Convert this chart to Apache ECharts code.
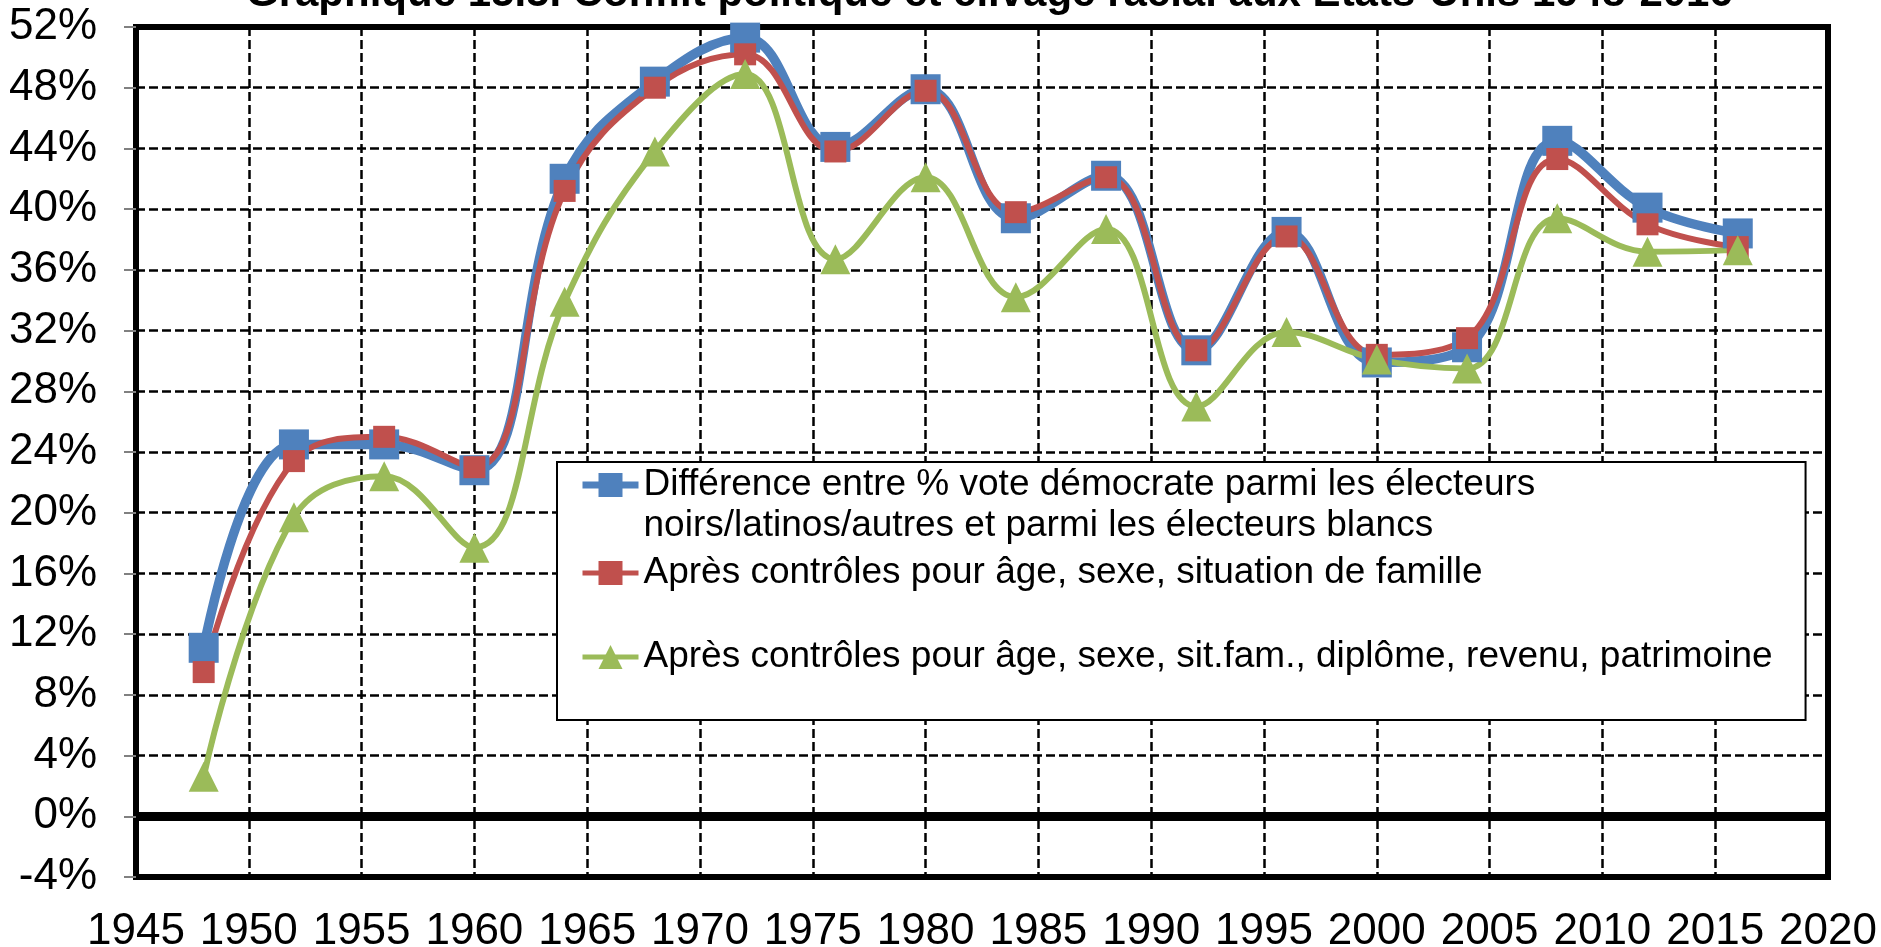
<!DOCTYPE html>
<html>
<head>
    <meta http-equiv="Content-Type" content="text/html; charset=UTF-8">
    <title>Conflit politique et clivage racial</title>
    <script type="text/javascript" src="https://cdn.jsdelivr.net/npm/echarts@6/dist/echarts.min.js"></script>
    <style>
        body { margin: 0; background: #fff; }
    </style>
</head>
<body>
<div id="view" style="width:1881px;height:947px;"></div>
</body>
<script type="text/javascript">

    // annees d'election
    var years = [1948, 1952, 1956, 1960, 1964, 1968, 1972, 1976, 1980, 1984, 1988, 1992, 1996, 2000, 2004, 2008, 2012, 2016];
    // ecart brut (en %)
    var ecartBrut = [11.1, 24.5, 24.5, 22.8, 42.0, 48.4, 51.3, 44.1, 47.9, 39.4, 42.2, 30.7, 38.5, 29.9, 30.9, 44.5, 40.1, 38.4];
    // apres controles age, sexe, situation de famille
    var ecartCtrl1 = [9.5, 23.4, 25.0, 23.0, 41.2, 48.0, 50.2, 43.8, 47.8, 39.8, 42.1, 30.7, 38.2, 30.4, 31.5, 43.3, 39.0, 37.5];
    // apres controles age, sexe, sit.fam., diplome, revenu, patrimoine
    var ecartCtrl2 = [2.6, 19.7, 22.4, 17.7, 33.9, 43.8, 48.9, 36.7, 42.1, 34.2, 38.7, 27.0, 31.9, 30.1, 29.5, 39.4, 37.2, 37.3];

    var nomBrut = 'Différence entre % vote démocrate parmi les électeurs\nnoirs/latinos/autres et parmi les électeurs blancs';
    var nomCtrl1 = 'Après contrôles pour âge, sexe, situation de famille';
    var nomCtrl2 = 'Après contrôles pour âge, sexe, sit.fam., diplôme, revenu, patrimoine';

    var font = '"Liberation Sans", Arial, sans-serif';

    function toPoints(vals) {
        var pts = [];
        for (var i = 0; i < years.length; i++) {
            pts.push([years[i], vals[i]]);
        }
        return pts;
    }

    var myChart = echarts.init(document.getElementById("view"));

    var option = {
        animation: false,
        backgroundColor: '#fff',
        title: {
            text: 'Graphique 15.5. Conflit politique et clivage racial aux Etats-Unis 1948-2016',
            left: 246,
            top: -27,
            padding: 0,
            textStyle: {
                fontFamily: font,
                fontSize: 42,
                fontWeight: 'bold',
                color: '#000'
            }
        },
        grid: {
            left: 136,
            right: 53,
            top: 27,
            bottom: 70,
            show: true,
            borderColor: '#000',
            borderWidth: 6,
            containLabel: false,
            outerBoundsMode: 'none'
        },
        legend: {
            orient: 'vertical',
            left: 557,
            top: 462,
            padding: [-38.5, 33, 5.5, 22],
            itemGap: 6,
            itemWidth: 56,
            itemHeight: 30,
            backgroundColor: '#fff',
            borderColor: '#000',
            borderWidth: 2,
            textStyle: {
                fontFamily: font,
                fontSize: 37,
                lineHeight: 41,
                color: '#000'
            },
            // ligne vide devant le premier libelle pour garder l'icone sur la 1re ligne
            formatter: function (name) {
                return name === nomBrut ? '\n' + name : name;
            },
            data: [
                {name: nomBrut, lineStyle: {width: 7}},
                {name: nomCtrl1, lineStyle: {width: 5}},
                {name: nomCtrl2, lineStyle: {width: 5}, textStyle: {padding: [37, 0, 37, 0]}}
            ]
        },
        xAxis: {
            type: 'value',
            min: 1945,
            max: 2020,
            interval: 5,
            axisLine: {show: false},
            axisTick: {show: false},
            axisLabel: {
                margin: 33,
                fontFamily: font,
                fontSize: 44,
                color: '#000',
                formatter: function (v) { return String(v); }
            },
            splitLine: {
                show: true,
                lineStyle: {color: '#000', width: 2.5, type: [9, 4]}
            }
        },
        yAxis: {
            type: 'value',
            min: -4,
            max: 52,
            interval: 4,
            axisLine: {show: false},
            axisTick: {
                show: true,
                length: 12,
                lineStyle: {color: '#808080', width: 2}
            },
            axisLabel: {
                margin: 39,
                formatter: '{value}%',
                fontFamily: font,
                fontSize: 44,
                color: '#000'
            },
            splitLine: {
                show: true,
                lineStyle: {color: '#000', width: 2.5, type: [9, 4]}
            }
        },
        series: [
            {
                name: nomBrut,
                type: 'line',
                smooth: 0.4,
                data: toPoints(ecartBrut),
                symbol: 'rect',
                symbolSize: 30,
                color: '#4F81BD',
                lineStyle: {width: 9.5, color: '#4F81BD'},
                itemStyle: {color: '#4F81BD'},
                markLine: {
                    silent: true,
                    symbol: ['none', 'none'],
                    label: {show: false},
                    lineStyle: {color: '#000', width: 9, type: 'solid'},
                    data: [{yAxis: 0}]
                }
            },
            {
                name: nomCtrl1,
                type: 'line',
                smooth: 0.4,
                data: toPoints(ecartCtrl1),
                symbol: 'rect',
                symbolSize: 22,
                color: '#C0504D',
                lineStyle: {width: 6, color: '#C0504D'},
                itemStyle: {color: '#C0504D'}
            },
            {
                name: nomCtrl2,
                type: 'line',
                smooth: 0.4,
                data: toPoints(ecartCtrl2),
                symbol: 'triangle',
                symbolSize: 30,
                color: '#9BBB59',
                lineStyle: {width: 6, color: '#9BBB59'},
                itemStyle: {color: '#9BBB59'}
            }
        ]
    };
    myChart.setOption(option);
</script>
</html>
